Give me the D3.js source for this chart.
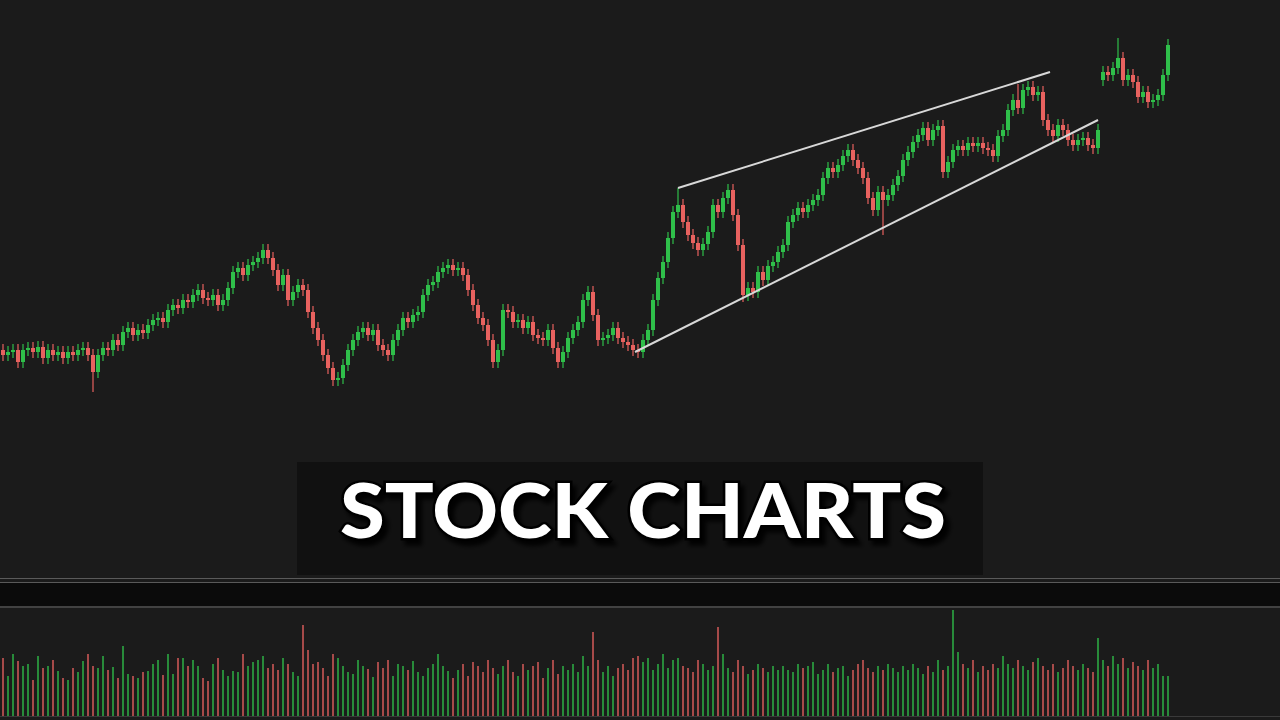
<!DOCTYPE html>
<html><head><meta charset="utf-8">
<script src="https://cdn.jsdelivr.net/npm/d3@7/dist/d3.min.js"></script>
<style>html,body{margin:0;padding:0;background:#1b1b1b;overflow:hidden}</style>
</head><body>
<svg id="c" width="1280" height="720"></svg>
<script>
// closing prices (arbitrary price units), one per session
const closes = [
45,48,50,38,50,52,48,53,42,50,45,48,42,48,45,50,52,45,28,
45,52,50,60,55,68,72,65,70,67,75,80,82,78,90,95,92,100,98,105,110,102,100,105,95,100,112,128,
132,125,135,138,142,150,142,130,115,125,100,108,115,110,
88,72,60,45,32,20,22,
35,50,60,68,72,65,70,55,50,45,60,70,82,78,85,88,105,115,118,128,132,135,130,132,
125,110,95,82,75,60,38,
50,90,88,78,80,72,78,65,62,60,70,52,38,48,62,70,78,100,108,85,
60,62,65,72,62,58,55,50,48,
60,70,100,122,138,162,188,195,
178,165,157,150,156,168,195,188,202,210,185,155,
105,112,108,128,120,134,138,148,155,
178,185,192,188,195,200,205,222,232,228,235,244,250,240,
232,222,202,190,208,200,205,215,224,
240,248,258,265,272,260,270,274,228,238,250,254,250,257,254,257,252,250,244,264,270,
290,300,292,310,313,305,308,280,
270,264,275,270,260,255,260,262,255,252,270,
328,325,332,342,320,325,318,303,308,298,300,305,325,355
];
const firstOpen = 50;
const gapIndex = 220, gapOpen = 320;   // opening gap after the wedge
const defaultWick = 6;
const longWicks = [[18,"low",8],[135,"high",212],[176,"low",165],[148,"low",98],[223,"high",362],[203,"high",316]];
const volumes = [
58,40,62,55,50,52,36,60,48,50,56,45,38,36,48,44,55,62,50,
48,60,46,49,38,70,42,40,38,44,45,52,56,41,62,42,58,58,50,56,50,38,35,52,58,46,40,45,
44,62,50,54,56,60,48,52,46,58,52,44,40,91,66,52,54,48,40,
62,58,50,44,42,56,50,47,39,54,48,56,40,52,50,46,55,44,40,48,52,62,50,45,38,
46,52,40,54,50,44,56,
48,42,50,56,44,40,52,46,50,54,38,48,56,42,50,46,52,44,60,50,
84,56,44,50,40,48,52,46,58,
60,54,58,46,52,62,48,56,
58,50,48,44,56,52,46,50,89,62,48,44,
56,50,42,46,52,48,44,50,46,
50,46,44,52,48,50,54,42,46,52,44,48,50,40,
46,52,56,48,44,50,46,52,48,
44,50,46,52,48,42,50,44,56,46,50,106,64,52,48,56,44,50,46,52,48,
60,52,48,56,50,46,54,58,
50,46,52,44,48,56,50,46,52,48,44,
78,56,50,60,52,58,48,54,50,46,56,48,52,40
];
const upperTrend = [[135,212],[209.4,328]];
const lowerTrend = [[126.4,48],[219,280]];
const title = "STOCK CHARTS";

const svg = d3.select("#c");
const green = "#2fbf4a", red = "#e8625f", grey = "#cfcfcf";
svg.append("rect").attr("width",1280).attr("height",720).attr("fill","#1b1b1b");
const defs = svg.append("defs");
const f = defs.append("filter").attr("id","sh").attr("x","-10%").attr("y","-30%").attr("width","120%").attr("height","160%");
f.append("feDropShadow").attr("dx",4).attr("dy",5).attr("stdDeviation",2).attr("flood-color","#000").attr("flood-opacity",0.9);

const n = closes.length;
const x = d3.scaleLinear().domain([0, n-1]).range([3, 1168]);
const y = d3.scaleLinear().domain([0, 360]).range([400, 40]);

const data = closes.map((c,i)=>{
  const o = i===0 ? firstOpen : (i===gapIndex ? gapOpen : closes[i-1]);
  let hi = Math.max(o,c)+defaultWick, lo = Math.min(o,c)-defaultWick;
  longWicks.forEach(w=>{ if(w[0]===i){ if(w[1]==="high") hi=w[2]; else lo=w[2]; } });
  return {i,o,c,hi,lo,v:volumes[i]||40};
});
const col = d => d.c>d.o ? green : (d.c<d.o ? red : grey);

const g = svg.append("g");
g.selectAll("line.w").data(data).join("line")
  .attr("x1",d=>x(d.i)).attr("x2",d=>x(d.i))
  .attr("y1",d=>y(d.hi)).attr("y2",d=>y(d.lo))
  .attr("stroke",col).attr("stroke-width",1.2);
g.selectAll("rect.b").data(data).join("rect")
  .attr("x",d=>x(d.i)-2).attr("width",4)
  .attr("y",d=>y(Math.max(d.o,d.c)))
  .attr("height",d=>Math.max(1.5, Math.abs(y(d.o)-y(d.c))))
  .attr("fill",col);

const line = d3.line().x(p=>x(p[0])).y(p=>y(p[1]));
[upperTrend, lowerTrend].forEach(t=>{
  svg.append("path").attr("d",line(t)).attr("stroke","#d8d8d8").attr("stroke-width",2).attr("fill","none");
});

// title box
svg.append("rect").attr("x",297).attr("y",462).attr("width",686).attr("height",113).attr("fill","#111111");
svg.append("text").attr("x",643).attr("y",538).attr("text-anchor","middle")
  .attr("font-family","Lato").attr("font-weight",900).attr("font-size",76)
  .attr("textLength",606).attr("lengthAdjust","spacingAndGlyphs")
  .attr("fill","#fff").attr("stroke","#000").attr("stroke-width",5).attr("paint-order","stroke")
  .attr("filter","url(#sh)").text(title);

// separators and volume panel
svg.append("line").attr("x1",0).attr("x2",1280).attr("y1",578.5).attr("y2",578.5).attr("stroke","#5a5a5a");
svg.append("line").attr("x1",0).attr("x2",1280).attr("y1",582.5).attr("y2",582.5).attr("stroke","#5a5a5a");
svg.append("rect").attr("x",0).attr("y",583).attr("width",1280).attr("height",23).attr("fill","#0b0b0b");
svg.append("line").attr("x1",0).attr("x2",1280).attr("y1",607).attr("y2",607).attr("stroke","#6a6a6a");
svg.append("line").attr("x1",0).attr("x2",1280).attr("y1",716.5).attr("y2",716.5).attr("stroke","#3a3a3a");

const vy = d3.scaleLinear().domain([0,110]).range([716,606]);
svg.append("g").selectAll("rect").data(data).join("rect")
  .attr("x",d=>x(d.i)-0.8).attr("width",1.6)
  .attr("y",d=>vy(d.v)).attr("height",d=>vy(0)-vy(d.v))
  .attr("fill",col).attr("opacity",0.85);
</script>
</body></html>
